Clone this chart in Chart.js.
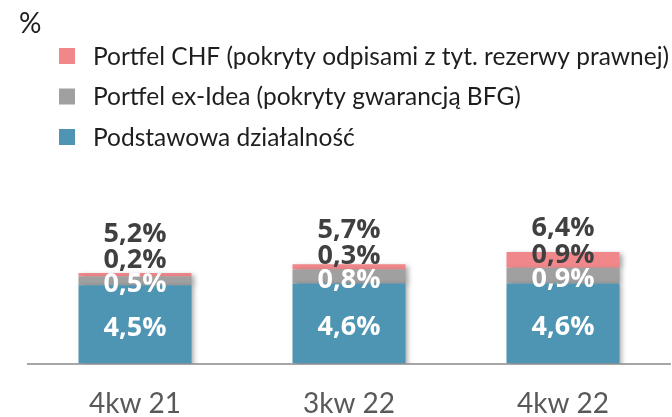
<!DOCTYPE html>
<html lang="pl">
<head>
<meta charset="utf-8">
<script src="https://cdn.jsdelivr.net/npm/chart.js@4/dist/chart.umd.min.js"></script>
<style>
  html, body { margin: 0; padding: 0; background: #ffffff; }
  #wrap { width: 672px; height: 417px; }
</style>
</head>
<body>
<div id="wrap"><canvas id="c" width="672" height="417"></canvas></div>
<script>
// Quarters on the x axis
const categories = ['4kw 21', '3kw 22', '4kw 22'];
// Stacked components, in %
const coreValues = [4.5, 4.6, 4.6];
const exIdeaValues = [0.5, 0.8, 0.9];
const chfValues = [0.2, 0.3, 0.9];
// Totals printed above each stack
const totalValues = [5.2, 5.7, 6.4];
// Series names, bottom to top
const seriesNames = [
  'Podstawowa działalność',
  'Portfel ex-Idea (pokryty gwarancją BFG)',
  'Portfel CHF (pokryty odpisami z tyt. rezerwy prawnej)'
];
const unitLabel = '%';

const colors = ['#4E94B3', '#A0A0A0', '#F0878B'];
const labelColors = ['#FFFFFF', '#FFFFFF', '#404040'];
const darkText = '#404040';

const fmt = v => v.toFixed(1).replace('.', ',') + '%';

const LABEL_FONT_SIZE = 27;
const labelFont = 'bold ' + LABEL_FONT_SIZE + 'px "Open Sans", sans-serif';

// Soft drop shadow under the bars, then value labels on top
const barDecor = {
  id: 'barDecor',
  beforeDatasetsDraw(chart) {
    const ctx = chart.ctx;
    ctx.save();
    ctx.shadowColor = 'rgba(0,0,0,0.35)';
    ctx.shadowBlur = 5;
    ctx.shadowOffsetX = 3;
    ctx.shadowOffsetY = 2;
  },
  afterDatasetsDraw(chart) {
    const ctx = chart.ctx;
    ctx.restore();
    ctx.save();
    ctx.font = labelFont;
    ctx.textAlign = 'center';
    ctx.textBaseline = 'alphabetic';
    const lift = LABEL_FONT_SIZE * 0.357; // digit half-height
    categories.forEach((_, i) => {
      let prevY = Infinity;
      let topY = Infinity;
      let x = 0;
      chart.data.datasets.forEach((ds, d) => {
        const el = chart.getDatasetMeta(d).data[i];
        x = el.x;
        const center = (el.y + el.base) / 2 + 2;
        const y = Math.min(center, prevY - 24);
        ctx.fillStyle = labelColors[d];
        ctx.fillText(fmt(ds.data[i]), x, y + lift);
        prevY = y;
        topY = Math.min(topY, el.y);
      });
      const ty = Math.min(topY - 26, prevY - 26);
      ctx.fillStyle = darkText;
      ctx.fillText(fmt(totalValues[i]), x, ty + lift);
    });
    ctx.restore();
  }
};

// Unit label and the stacked legend in the top-left corner
const headerLegend = {
  id: 'headerLegend',
  afterDraw(chart) {
    const ctx = chart.ctx;
    ctx.save();
    ctx.textBaseline = 'middle';
    ctx.textAlign = 'left';
    ctx.fillStyle = '#1E1E1E';
    ctx.font = '28px Lato, sans-serif';
    ctx.fillText(unitLabel, 19, 24);
    ctx.font = '24.5px Lato, sans-serif';
    const order = [2, 1, 0];
    order.forEach((d, row) => {
      const cy = 56 + row * 40.5;
      ctx.fillStyle = colors[d];
      ctx.fillRect(59, cy - 8, 16, 16);
      ctx.fillStyle = '#1E1E1E';
      ctx.fillText(chart.data.datasets[d].label, 93, cy + 1);
    });
    ctx.restore();
  }
};

new Chart(document.getElementById('c'), {
  type: 'bar',
  data: {
    labels: categories,
    datasets: [
      { label: seriesNames[0], data: coreValues, backgroundColor: colors[0] },
      { label: seriesNames[1], data: exIdeaValues, backgroundColor: colors[1] },
      { label: seriesNames[2], data: chfValues, backgroundColor: colors[2] }
    ]
  },
  options: {
    responsive: false,
    animation: false,
    layout: { padding: { left: 28, right: 2, top: 172, bottom: 0 } },
    datasets: {
      bar: { categoryPercentage: 0.528, barPercentage: 1, borderWidth: 0 }
    },
    plugins: {
      legend: { display: false },
      tooltip: { enabled: false },
      title: { display: false }
    },
    scales: {
      x: {
        stacked: true,
        grid: { display: false, drawTicks: false },
        border: { display: true, color: '#A6A6A6', width: 2 },
        ticks: {
          color: '#595959',
          font: { family: 'Lato', size: 28, lineHeight: 1 },
          padding: 26
        },
        afterFit(scale) { scale.height = 53.5; }
      },
      y: {
        stacked: true,
        display: false,
        min: 0,
        max: 11
      }
    }
  },
  plugins: [barDecor, headerLegend]
});
</script>
</body>
</html>
